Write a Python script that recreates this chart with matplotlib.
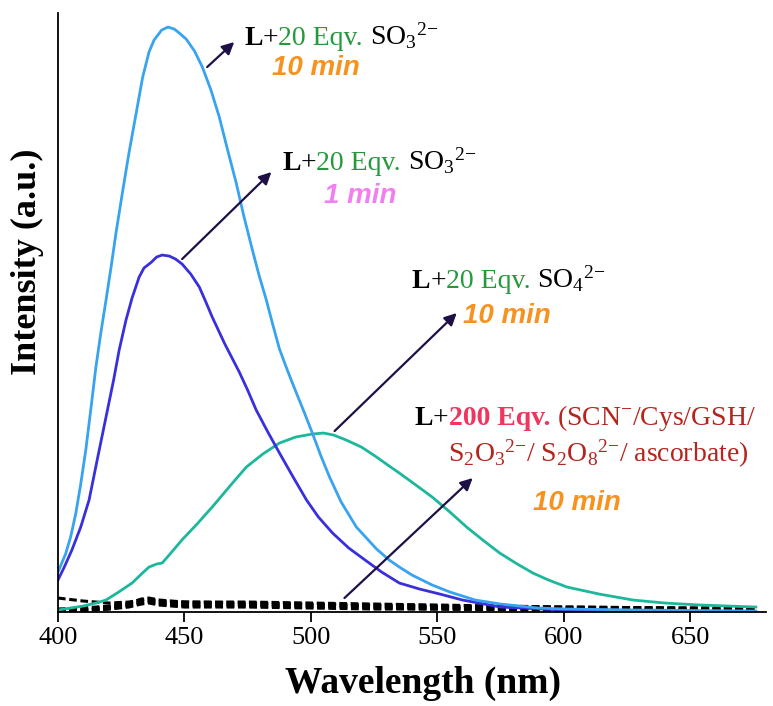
import matplotlib
matplotlib.use("Agg")
import matplotlib.pyplot as plt
import matplotlib.transforms as mtransforms

plt.rcParams['font.family'] = ['Liberation Serif', 'DejaVu Serif']
plt.rcParams['mathtext.fontset'] = 'custom'
plt.rcParams['mathtext.rm'] = 'Liberation Serif'
plt.rcParams['mathtext.it'] = 'Liberation Serif:italic'
plt.rcParams['mathtext.bf'] = 'Liberation Serif:bold'

# ---- data (intensity in arbitrary units) ----
wl_sky = [400, 403, 405, 407, 409, 411, 413, 415, 417, 419, 421, 423, 425.4, 428, 431, 433.5,
          436, 438, 441, 443.5, 446, 448, 450.7, 454, 457.1, 460.5, 463.8, 467, 470.5,
          473.5, 476.9, 479.5, 482.4, 485, 487.6, 491, 494.3, 497.5, 500.6, 504, 507.4,
          512, 518, 522, 526, 531, 535, 540, 544, 548, 555, 565, 575, 590, 601, 630, 676]
int_sky = [40, 58, 75, 98, 128, 162, 203, 245, 280, 312, 345, 380, 418, 458, 500, 535,
           560, 572, 582, 585, 583, 579, 573, 561, 545, 522, 495, 463, 429,
           396, 362, 337, 312, 287, 263, 240, 219, 199, 179, 156, 135,
           110, 85, 74, 63, 52, 45, 37, 32, 27, 20, 12, 8, 4, 3, 2, 1]

wl_blue = [400, 402.5, 405.5, 409, 412.3, 415.5, 419, 422, 424.2, 426.9, 429.3, 432.1,
           434, 437, 439, 441.2, 444, 446.5, 449.1, 452.5, 455.9, 458.5, 461, 466,
           471.7, 475, 478.4, 483, 487.6, 493, 498.3, 503, 508.6, 515, 522, 528,
           535, 543, 551, 560, 575, 600, 676]
int_blue = [32, 45, 62, 85, 112, 152, 195, 232, 262, 292, 314, 335,
            344, 350, 355, 357, 356, 353, 348, 338, 325, 310, 295, 268,
            240, 222, 202, 180, 159, 135, 112, 95, 79, 64, 51, 40,
            29, 23, 18, 12, 5, 2, 0]

wl_teal = [400, 410, 415, 419, 424, 429.3, 433, 436, 439, 441.2, 445, 449, 455, 461,
           468, 474.5, 481, 487.6, 494, 500.6, 505, 509, 514, 520, 526, 531, 535,
           541, 548, 555, 561.6, 568, 574.7, 581, 587.8, 594, 601.3, 614, 627.4,
           640, 654, 676]
int_teal = [2, 6, 9, 12, 20, 29, 38, 45, 48, 49, 60, 72, 88, 105,
            126, 145, 158, 169, 175, 178, 179, 177, 172, 165, 155, 146, 139,
            128, 115, 100, 85, 72, 59, 49, 39, 32, 25, 18, 12,
            9, 7, 5]

# dashed traces: L with 200 eqv. of the other analytes
wl_dash = [400, 410, 420, 428, 433, 436, 440, 450, 475, 500, 525, 550, 600, 650, 676]
int_dash = [
    [14, 11, 9, 10, 12, 13, 11, 10, 9, 8, 7, 6, 5, 4, 4],
    [3, 4, 6, 9, 13, 14, 12, 10, 10, 9, 8, 7, 5, 4, 4],
    [2, 3, 5, 8, 11, 12, 10, 8, 8, 7, 6, 5, 4, 3, 3],
    [1, 2, 4, 7, 10, 11, 9, 7, 7, 6, 5, 4, 3, 3, 2],
    [1, 2, 3, 6, 9, 10, 8, 6, 6, 5, 4, 3, 2, 2, 2],
    [0.5, 1.5, 3, 5, 8, 9, 7, 5, 5, 4, 3, 3, 2, 1.5, 1.5],
]

x_ticks = [400, 450, 500, 550, 600, 650]

fig = plt.figure(figsize=(7.73, 7.06), dpi=100)
ax = fig.add_axes([0.0750, 0.1331, 0.9159, 0.8484])

for yy in int_dash:
    ax.plot(wl_dash, yy, color='black', lw=2.2, ls=(0, (2.5, 1.2)))
ax.plot(wl_teal, int_teal, color='#1db79b', lw=2.0)
ax.plot(wl_blue, int_blue, color='#3a2fdc', lw=2.0)
ax.plot(wl_sky, int_sky, color='#38a3ee', lw=2.0)

ax.set_xlim(400, 680)
ax.set_ylim(0, 599)
ax.set_xticks(x_ticks)
ax.set_yticks([])
ax.tick_params(axis='x', direction='out', length=7, width=1.3, labelsize=19, pad=4)
for s in ['top', 'right']:
    ax.spines[s].set_visible(False)
for s in ['left', 'bottom']:
    ax.spines[s].set_linewidth(1.3)

fig.text(423 / 773, 1 - 683 / 706, 'Wavelength (nm)', fontsize=27, fontweight='bold',
         ha='center', va='center')
fig.text(27 / 773, 1 - 262 / 706, 'Intensity (a.u.)', fontsize=26, fontweight='bold',
         ha='center', va='center', rotation=90)

renderer = fig.canvas.get_renderer()


def colored_text(x, y, parts, size=20):
    """ write pieces of text one after another, each with its own style """
    t = ax.transData
    for s, props in parts:
        txt = ax.text(x, y, s, transform=t, fontsize=size, va='baseline', ha='left', **props)
        ext = txt.get_window_extent(renderer)
        t = mtransforms.offset_copy(txt.get_transform(), fig=fig, x=ext.width, units='dots')


green = '#249a3c'
orange = '#f7921e'
pink = '#f27ff0'
hotpink = '#f0365f'
darkred = '#b5241d'
arrowc = '#1e0f47'
min_font = dict(family='Liberation Sans', fontweight='bold', fontstyle='italic', fontsize=20)

colored_text(473.7, 567, [('L', dict(color='black', fontweight='bold')),
                          ('+', dict(color='black')),
                          ('20 Eqv. ', dict(color=green)),
                          ('SO$_{3}$$^{2{-}}$', dict(color='black'))])
ax.text(484.8, 537, '10 min', color=orange, **min_font)

colored_text(488.7, 442, [('L', dict(color='black', fontweight='bold')),
                          ('+', dict(color='black')),
                          ('20 Eqv. ', dict(color=green)),
                          ('SO$_{3}$$^{2{-}}$', dict(color='black'))])
ax.text(505.4, 409, '1 min', color=pink, **min_font)

colored_text(539.9, 324, [('L', dict(color='black', fontweight='bold')),
                          ('+', dict(color='black')),
                          ('20 Eqv. ', dict(color=green)),
                          ('SO$_{4}$$^{2{-}}$', dict(color='black'))])
ax.text(560.1, 289, '10 min', color=orange, **min_font)

colored_text(541.0, 187, [('L', dict(color='black', fontweight='bold')),
                          ('+', dict(color='black')),
                          ('200 Eqv. ', dict(color=hotpink, fontweight='bold')),
                          ('(SCN$^{-}$/Cys/GSH/', dict(color=darkred))])
colored_text(554.1, 150, [('S$_{2}$O$_{3}$$^{2{-}}$/ S$_{2}$O$_{8}$$^{2{-}}$/ ascorbate)',
                           dict(color=darkred))])
ax.text(587.8, 102, '10 min', color=orange, **min_font)

arrows = [((459.0, 545), (469.7, 570)),
          ((449.1, 353), (484.4, 440)),
          ((509.4, 181), (557.7, 299)),
          ((513.3, 14), (564.0, 134))]
for tail, head in arrows:
    ax.annotate('', xy=head, xytext=tail,
                arrowprops=dict(arrowstyle='-|>', color=arrowc, lw=1.6,
                                mutation_scale=18, shrinkA=0, shrinkB=0))

fig.savefig('out.png', dpi=100)
